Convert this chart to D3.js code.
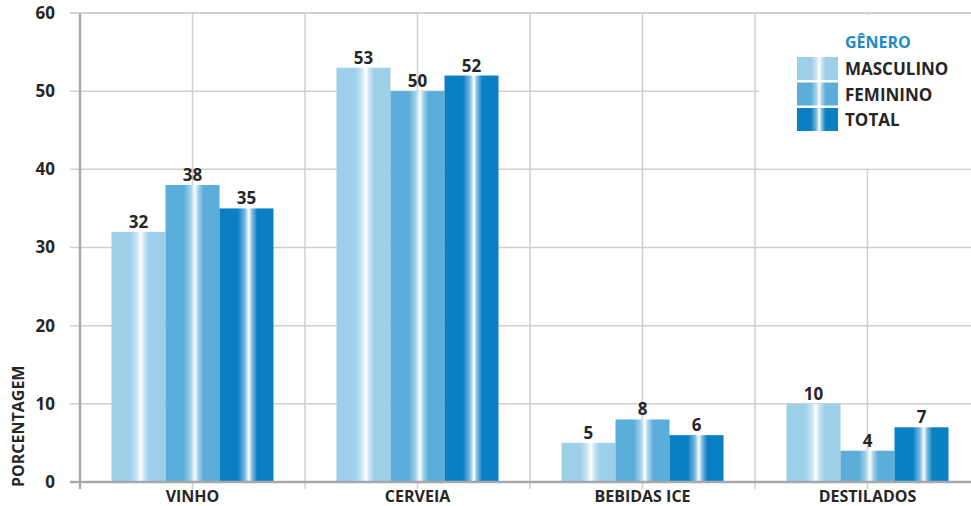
<!DOCTYPE html>
<html>
<head>
<meta charset="utf-8">
<script src="https://cdn.jsdelivr.net/npm/d3@7"></script>
<style>
  html, body { margin: 0; padding: 0; background: #fff; }
  svg { display: block; font-family: "Open Sans", "Noto Sans", sans-serif; font-weight: 700; }
</style>
</head>
<body>
<svg id="chart" width="971" height="506"></svg>
<script>
// Consumo de bebidas por gênero (%)
const categories = ["VINHO", "CERVEIA", "BEBIDAS ICE", "DESTILADOS"];
const seriesNames = ["MASCULINO", "FEMININO", "TOTAL"];
const masculino = [32, 53, 5, 10];
const feminino  = [38, 50, 8, 4];
const total     = [35, 52, 6, 7];
const yTicks = [0, 10, 20, 30, 40, 50, 60];
const legendTitle = "GÊNERO";
const yTitle = "PORCENTAGEM";

const seriesValues = [masculino, feminino, total];
const colors = ["#9dcfe9", "#5badda", "#0a7fc4"];

const W = 971, H = 506;
const plotLeft = 80, plotBottom = 482, plotTop = 13, plotRight = 971;

const svg = d3.select("#chart");
const defs = svg.append("defs");

// Metallic highlight: base colour with a bright white streak just right of centre
colors.forEach((c, i) => {
  const g = defs.append("linearGradient").attr("id", "grad" + i)
    .attr("x1", "0%").attr("x2", "100%").attr("y1", "0%").attr("y2", "0%");
  const light = d3.interpolateRgb(c, "#ffffff");
  [[0, c], [0.34, c], [0.47, light(0.45)], [0.545, "#ffffff"], [0.6, light(0.5)], [0.7, c], [1, c]]
    .forEach(([o, col]) => g.append("stop").attr("offset", o).attr("stop-color", col));
});

const y = d3.scaleLinear().domain([0, 60]).range([plotBottom, plotTop]);
const x0 = d3.scaleBand().domain(categories).range([plotLeft, plotLeft + 225 * categories.length]).padding(0);
const x1 = d3.scaleBand().domain(seriesNames).range([0, x0.bandwidth()]).paddingInner(0).paddingOuter(0.583);

const grid = svg.append("g").attr("stroke", "#cfcfcf").attr("stroke-width", 1.5);

// horizontal grid
grid.selectAll("line.h").data(yTicks.filter(t => t > 0)).join("line")
  .attr("class", "h")
  .attr("x1", plotLeft - 10).attr("x2", plotRight)
  .attr("y1", d => y(d)).attr("y2", d => y(d));

// vertical grid at category centres and separators
const centres = categories.map(c => x0(c) + x0.bandwidth() / 2);
const seps = categories.slice(1).map(c => x0(c));
grid.selectAll("line.v").data(centres.concat(seps)).join("line")
  .attr("class", "v")
  .attr("x1", d => d).attr("x2", d => d)
  .attr("y1", y(60)).attr("y2", plotBottom + 7);

// white panel behind the legend
svg.append("rect").attr("x", 759).attr("y", y(60) + 2).attr("width", W - 759).attr("height", y(40) - y(60) - 3)
  .attr("fill", "#fff");

// bars
const groups = svg.append("g").selectAll("g").data(categories).join("g")
  .attr("transform", c => `translate(${x0(c)},0)`);

groups.selectAll("rect").data((c, ci) => seriesNames.map((s, si) => ({ s, si, v: seriesValues[si][ci] })))
  .join("rect")
  .attr("x", d => x1(d.s))
  .attr("width", x1.bandwidth())
  .attr("y", d => y(d.v))
  .attr("height", d => y(0) - y(d.v))
  .attr("fill", d => `url(#grad${d.si})`);

groups.selectAll("text").data((c, ci) => seriesNames.map((s, si) => ({ s, si, v: seriesValues[si][ci] })))
  .join("text")
  .attr("x", d => x1(d.s) + x1.bandwidth() / 2)
  .attr("y", d => y(d.v) - 4)
  .attr("text-anchor", "middle")
  .attr("font-size", 17)
  .attr("fill", "#262626")
  .text(d => d.v);

// axes
const axisCol = "#a8a8aa";
svg.append("line").attr("x1", plotLeft).attr("x2", plotLeft).attr("y1", y(60)).attr("y2", plotBottom + 7)
  .attr("stroke", axisCol).attr("stroke-width", 2.5);
svg.append("line").attr("x1", plotLeft - 10).attr("x2", plotRight).attr("y1", plotBottom).attr("y2", plotBottom)
  .attr("stroke", axisCol).attr("stroke-width", 2.5);
svg.append("line").attr("x1", plotLeft - 10).attr("x2", plotRight).attr("y1", y(60)).attr("y2", y(60))
  .attr("stroke", "#cfcfcf").attr("stroke-width", 1.5);

const yAxis = svg.append("g").attr("transform", `translate(${plotLeft},0)`)
  .call(d3.axisLeft(y).tickValues(yTicks).tickSize(0).tickPadding(25));
yAxis.select(".domain").remove();
yAxis.selectAll("text").attr("font-size", 17).attr("font-family", "Open Sans").attr("font-weight", 700)
  .attr("fill", "#262626");

const xAxis = svg.append("g").attr("transform", `translate(0,${plotBottom})`)
  .call(d3.axisBottom(x0).tickSize(0).tickPadding(9));
xAxis.select(".domain").remove();
xAxis.selectAll("text").attr("font-size", 16).attr("font-family", "Open Sans").attr("font-weight", 700)
  .attr("fill", "#262626").attr("dy", "0.71em");

// y title
svg.append("text")
  .attr("transform", `translate(24,487) rotate(-90)`)
  .attr("font-size", 16).attr("fill", "#262626")
  .text(yTitle);

// legend
const lg = svg.append("g").attr("transform", "translate(797,0)");
lg.append("text").attr("x", 48).attr("y", 48).attr("font-size", 16).attr("fill", "#1b8bcc").text(legendTitle);
const items = lg.selectAll("g").data(seriesNames).join("g")
  .attr("transform", (d, i) => `translate(0,${57 + i * 25.5})`);
items.append("rect").attr("width", 41).attr("height", 23).attr("fill", (d, i) => `url(#grad${i})`);
items.append("text").attr("x", 48).attr("y", 18).attr("font-size", 17).attr("fill", "#262626").text(d => d);
</script>
</body>
</html>
